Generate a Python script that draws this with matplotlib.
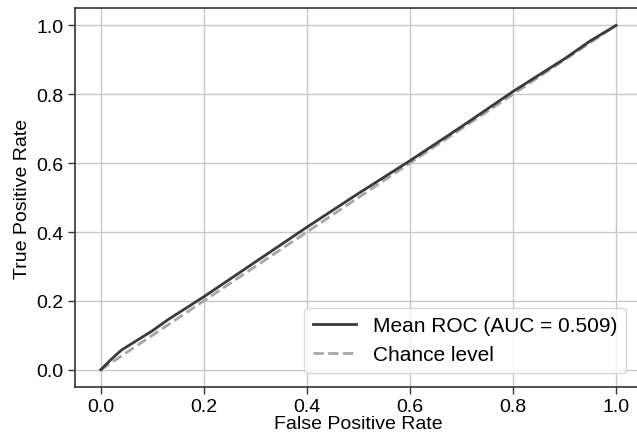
import matplotlib
matplotlib.use("Agg")
import matplotlib.pyplot as plt

plt.rcParams['font.family'] = ['Liberation Sans', 'DejaVu Sans']

# mean ROC curve
mean_fpr = [0.0, 0.02, 0.04, 0.07, 0.10, 0.13, 0.20, 0.30, 0.40, 0.50,
            0.60, 0.70, 0.80, 0.90, 0.95, 1.0]
mean_tpr = [0.0, 0.03, 0.057, 0.085, 0.113, 0.145, 0.212, 0.313, 0.414, 0.512,
            0.607, 0.706, 0.808, 0.903, 0.955, 1.0]
mean_auc = 0.509

chance_x = [0, 1]
chance_y = [0, 1]

fig = plt.figure(figsize=(6.37, 4.39), dpi=100)
ax = fig.add_axes([0.1177, 0.1162, 0.890, 0.863])

ax.grid(True, color='#c8c8c8', linewidth=1.0)
ax.set_axisbelow(True)

ax.plot(chance_x, chance_y, linestyle='--', color='#a6a6a6', lw=2, label='Chance level')
ax.plot(mean_fpr, mean_tpr, color='#3a3a3a', lw=2,
        label='Mean ROC (AUC = %0.3f)' % mean_auc)

ax.set_xlim(-0.05, 1.05)
ax.set_ylim(-0.05, 1.05)
ax.set_xticks([0, 0.2, 0.4, 0.6, 0.8, 1.0])
ax.set_yticks([0, 0.2, 0.4, 0.6, 0.8, 1.0])
ax.set_xlabel('False Positive Rate', fontsize=14, labelpad=0)
ax.set_ylabel('True Positive Rate', fontsize=14, labelpad=4)
ax.tick_params(labelsize=14, length=5, width=1, color='#333333', pad=3)

for s in ax.spines.values():
    s.set_color('#333333')
    s.set_linewidth(1.2)

handles, labels = ax.get_legend_handles_labels()
ax.legend(handles[::-1], labels[::-1], loc='lower right', fontsize=15,
          bbox_to_anchor=(0.99, 0.01), framealpha=0.8, edgecolor='#d0d0d0',
          handlelength=2.1)

fig.savefig('out.png', dpi=100)
